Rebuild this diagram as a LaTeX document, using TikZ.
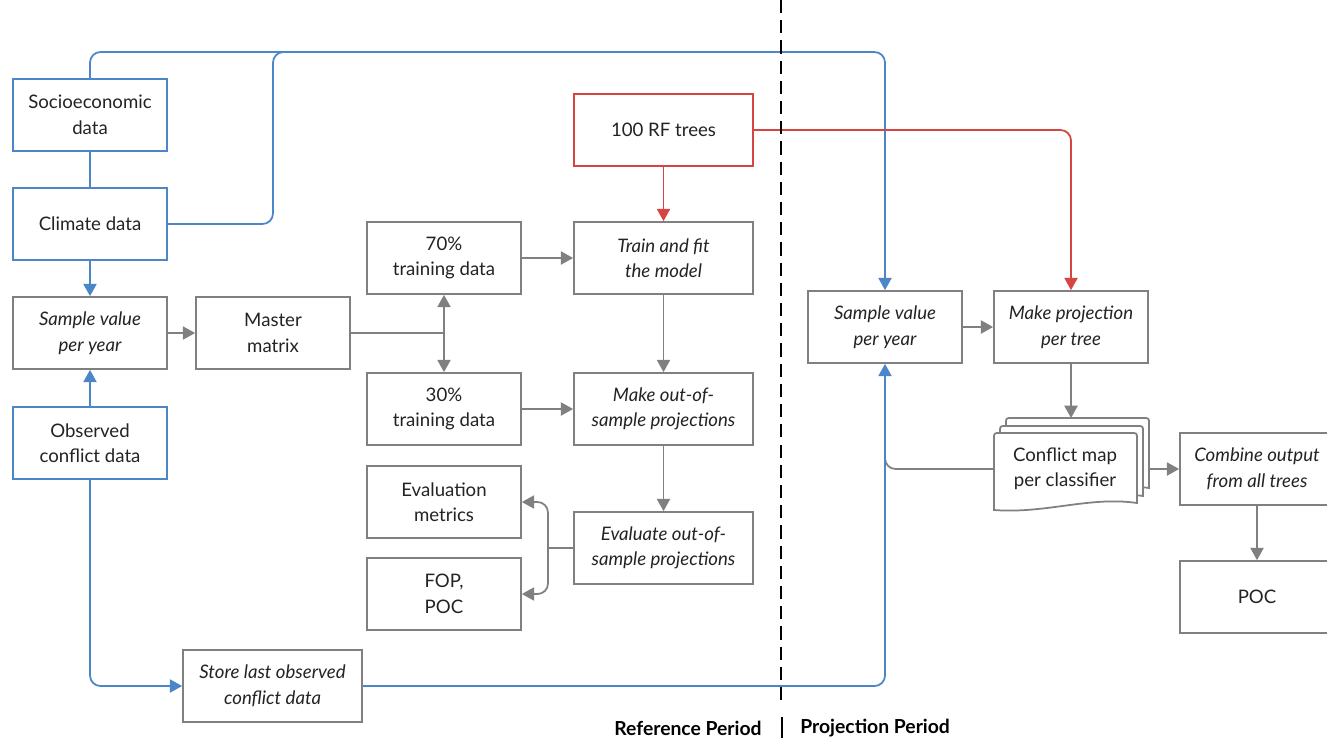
\documentclass[tikz,border=0pt]{standalone}
\usepackage{fontspec}
\setmainfont{Lato}
\usetikzlibrary{arrows.meta}
\definecolor{flowblue}{RGB}{74,134,200}
\definecolor{flowred}{RGB}{214,69,65}
\definecolor{flowgray}{RGB}{128,128,128}
\definecolor{inkgray}{RGB}{35,35,35}
\tikzset{
  box/.style={draw=flowgray, fill=white, line width=1pt, minimum width=3.08cm,
    minimum height=1.44cm, align=center, text=inkgray, inner sep=1pt,
    font=\fontsize{10.6}{14.5}\selectfont},
  widebox/.style={box, minimum width=3.58cm},
  databox/.style={box, draw=flowblue},
  rfbox/.style={widebox, draw=flowred},
  task/.style={font=\fontsize{10.6}{14.5}\selectfont\itshape},
  flow/.style={line width=1pt, draw=flowgray},
  blueflow/.style={flow, draw=flowblue},
  redflow/.style={flow, draw=flowred},
  arr/.style={-{Triangle[length=7pt,width=7.5pt]}},
  period/.style={inner sep=0pt, text=black, font=\fontsize{11}{12}\selectfont\bfseries},
}
\begin{document}
\begin{tikzpicture}[x=0.02cm, y=-0.02cm]
  \useasboundingbox (0,0) rectangle (1327,738);
  % reference period
  \node[databox] (socio) at (90,115) {Socioeconomic\\data};
  \node[databox] (climate) at (90,224) {Climate data};
  \node[box,task] (sample) at (90,333) {Sample value\\per year};
  \node[databox] (observed) at (90,443) {Observed\\conflict data};
  \node[box] (master) at (273,333) {Master\\matrix};
  \node[box] (train70) at (444,258) {70\%\\training data};
  \node[box] (test30) at (444,409) {30\%\\training data};
  \node[box] (metrics) at (444,502) {Evaluation\\metrics};
  \node[box] (fop) at (444,594) {FOP,\\POC};
  \node[rfbox] (rf) at (663.5,130) {100 RF trees};
  \node[widebox,task] (fit) at (663.5,258) {Train and fit\\the model};
  \node[widebox,task] (oos) at (663.5,409) {Make out-of-\\sample projections};
  \node[widebox,task] (evaluate) at (663.5,548) {Evaluate out-of-\\sample projections};
  \node[widebox,task] (store) at (272.5,686) {Store last observed\\conflict data};
  % projection period
  \node[box,task] (projsample) at (885,327) {Sample value\\per year};
  \node[box,task] (projtree) at (1071,327) {Make projection\\per tree};
  \foreach \dx/\dy in {12/-15, 6/-7, 0/0}
    \draw[flow, fill=white] ({994+\dx},{510+\dy}) -- ({994+\dx},{439+\dy})
      .. controls ({994+\dx},{433+\dy}) .. ({1000+\dx},{433+\dy}) -- ({1131+\dx},{433+\dy})
      .. controls ({1137+\dx},{433+\dy}) .. ({1137+\dx},{439+\dy}) -- ({1137+\dx},{503+\dy})
      .. controls ({1090+\dx},{496+\dy}) and ({1045+\dx},{514+\dy}) .. ({994+\dx},{510+\dy}) -- cycle;
  \node[align=center, text=inkgray, font=\fontsize{10.6}{14.5}\selectfont,
    minimum width=2.86cm, minimum height=1.54cm] (cmap) at (1065,469) {Conflict map\\per classifier};
  \node[box,task] (combine) at (1257,469) {Combine output\\from all trees};
  \node[box] (poc) at (1257,597) {POC};

  \coordinate (topbend) at (885,52);
  \coordinate (climbend) at (273,52);
  \coordinate (topjoin) at (420,52);
  \coordinate (msplit) at (444,333);
  \coordinate (evsplit) at (548,548);
  \coordinate (cmaptop) at (1071,418);
  \coordinate (cmapright) at (1149,469);
  \coordinate (cmapjoin) at (885,445);
  \coordinate (divtop) at (781,0);
  \coordinate (divbottom) at (781,706);
  \coordinate (bartop) at (782,717);
  \coordinate (barbottom) at (782,738);

  % data inputs
  \draw[blueflow] (socio) -- (climate);
  \draw[blueflow, arr] (climate) -- (sample);
  \draw[blueflow, arr] (observed) -- (sample);
  \draw[blueflow, rounded corners=6pt] (climate.east) -| (climbend) -- (topjoin);
  \draw[blueflow, arr, rounded corners=6pt] (socio.north) |- (topbend) -- (projsample.north);
  \draw[blueflow, arr, rounded corners=6pt] (observed.south) |- (store.west);
  \draw[flow, rounded corners=6pt] (cmap.west) -| (cmapjoin);
  \draw[blueflow, arr, rounded corners=6pt] (store.east) -| (projsample.south);

  % model
  \draw[flow, arr] (sample) -- (master);
  \draw[flow] (master) -- (msplit);
  \draw[flow, arr] (msplit) -- (train70);
  \draw[flow, arr] (msplit) -- (test30);
  \draw[flow, arr] (train70) -- (fit);
  \draw[flow, arr] (test30) -- (oos);
  \draw[flow, arr] (fit) -- (oos);
  \draw[flow, arr] (oos) -- (evaluate);
  \draw[flow] (evaluate.west) -- (evsplit);
  \draw[flow, arr, rounded corners=6pt] (evsplit) |- (metrics.east);
  \draw[flow, arr, rounded corners=6pt] (evsplit) |- (fop.east);
  \draw[redflow, arr] (rf) -- (fit);
  \draw[redflow, arr, rounded corners=6pt] (rf.east) -| (projtree.north);

  % projection
  \draw[flow, arr] (projsample) -- (projtree);
  \draw[flow, arr] (projtree) -- (cmaptop);
  \draw[flow, arr] (cmapright) -- (combine);
  \draw[flow, arr] (combine) -- (poc);

  % periods
  \draw[line width=1.4pt, dash pattern=on 7.5pt off 4pt] (divtop) -- (divbottom);
  \draw[line width=1.2pt] (bartop) -- (barbottom);
  \node[period, anchor=east] (refperiod) at (762,728) {Reference Period};
  \node[period, anchor=west] (projperiod) at (800,728) {Projection Period};
\end{tikzpicture}
\end{document}
